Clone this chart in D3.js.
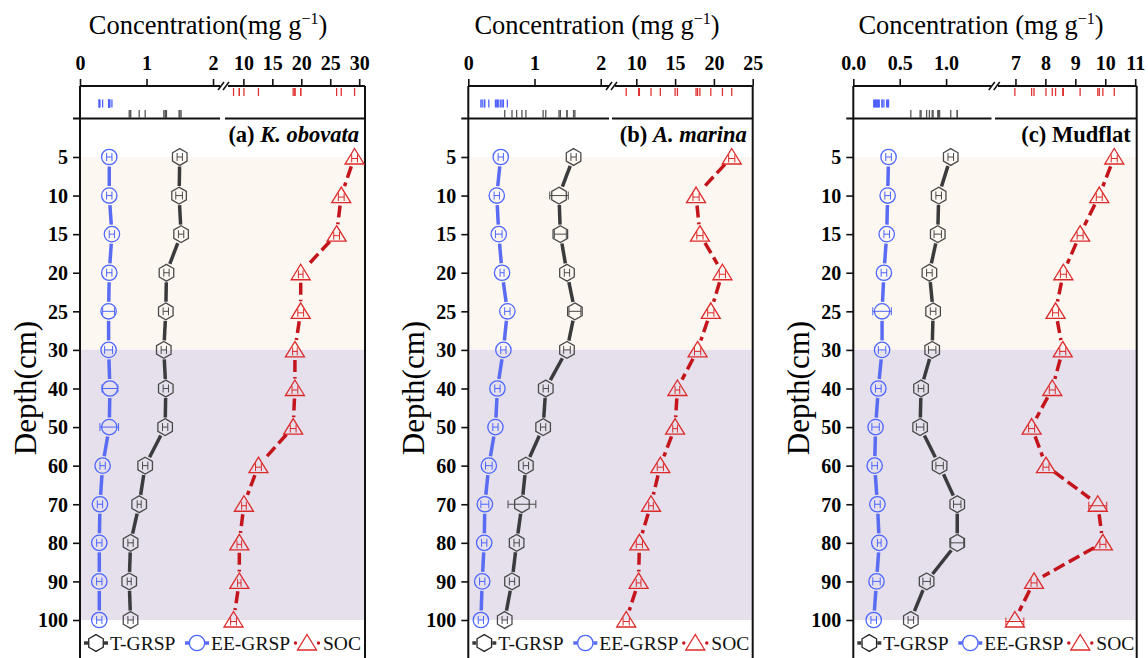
<!DOCTYPE html>
<html>
<head>
<meta charset="utf-8">
<script src="https://cdn.jsdelivr.net/npm/d3@7"></script>
<style>
body { margin: 0; background: #fff; }
svg { display: block; font-family: "Liberation Serif", "Times New Roman", serif; }
</style>
</head>
<body>
<script>
const width = 1148;
const height = 658;

// depth categories (cm), equally spaced on the axis
const depths = ['5', '10', '15', '20', '25', '30', '40', '50', '60', '70', '80', '90', '100'];

// (a) K. obovata
const tgrspA = [1.50, 1.49, 1.52, 1.30, 1.29, 1.26, 1.29, 1.28, 0.98, 0.89, 0.76, 0.74, 0.76];
const tgrspErrA = [0.04, 0.05, 0.04, 0.04, 0.04, 0.04, 0.04, 0.04, 0.04, 0.03, 0.04, 0.03, 0.04];
const eeA = [0.44, 0.44, 0.48, 0.44, 0.43, 0.43, 0.45, 0.44, 0.34, 0.30, 0.29, 0.29, 0.29];
const eeErrA = [0.04, 0.04, 0.04, 0.04, 0.09, 0.06, 0.12, 0.14, 0.04, 0.04, 0.04, 0.04, 0.04];
const socA = [29.2, 26.9, 26.1, 19.9, 19.9, 18.9, 18.9, 18.6, 12.6, 10.1, 9.3, 9.3, 8.3];
const socErrA = [0.5, 0.5, 0.5, 0.4, 0.5, 0.4, 0.5, 0.5, 0.5, 0.4, 0.4, 0.3, 0.5];

// (b) A. marina
const tgrspB = [1.59, 1.37, 1.39, 1.49, 1.61, 1.49, 1.17, 1.13, 0.87, 0.81, 0.73, 0.66, 0.55];
const tgrspErrB = [0.04, 0.14, 0.09, 0.04, 0.09, 0.05, 0.04, 0.04, 0.04, 0.21, 0.04, 0.04, 0.04];
const eeB = [0.49, 0.43, 0.46, 0.51, 0.59, 0.53, 0.44, 0.41, 0.31, 0.25, 0.24, 0.21, 0.19];
const eeErrB = [0.04, 0.04, 0.05, 0.03, 0.04, 0.04, 0.04, 0.04, 0.05, 0.06, 0.04, 0.04, 0.04];
const socB = [22.3, 17.7, 18.2, 21.1, 19.6, 17.9, 15.3, 15.0, 13.1, 11.9, 10.4, 10.3, 8.7];
const socErrB = [0.4, 0.4, 0.4, 0.4, 0.4, 0.4, 0.3, 0.3, 0.4, 0.3, 0.4, 0.3, 0.4];

// (c) Mudflat
const tgrspC = [1.05, 0.92, 0.91, 0.82, 0.86, 0.85, 0.73, 0.72, 0.93, 1.12, 1.12, 0.79, 0.62];
const tgrspErrC = [0.03, 0.03, 0.04, 0.03, 0.03, 0.04, 0.03, 0.04, 0.04, 0.04, 0.07, 0.04, 0.03];
const eeC = [0.38, 0.37, 0.36, 0.33, 0.31, 0.31, 0.27, 0.24, 0.23, 0.26, 0.28, 0.25, 0.22];
const eeErrC = [0.03, 0.03, 0.03, 0.03, 0.10, 0.04, 0.03, 0.04, 0.03, 0.03, 0.02, 0.04, 0.03];
const socC = [10.3, 9.8, 9.16, 8.6, 8.34, 8.58, 8.23, 7.54, 8.02, 9.75, 9.92, 7.62, 6.98];
const socErrC = [0.1, 0.1, 0.1, 0.1, 0.1, 0.1, 0.1, 0.1, 0.1, 0.3, 0.1, 0.1, 0.3];

// top axis tick labels
const leftTicksAB = [0, 1, 2];
const leftTicksC = [0, 0.5, 1.0];
const rightTicksA = [10, 15, 20, 25, 30];
const rightTicksB = [10, 15, 20, 25];
const rightTicksC = [7, 8, 9, 10, 11];

const legendNames = ['T-GRSP', 'EE-GRSP', 'SOC'];

const col = {
  t: {line: '#3b3b3e', mark: '#4a4a4a'},
  ee: {line: '#5a6cf3', mark: '#4d66ff'},
  soc: {line: '#c4141c', mark: '#dc2a2a'}
};

const serif = '"Liberation Serif", "Times New Roman", serif';

const svg = d3.select('body').append('svg')
  .attr('width', width).attr('height', height)
  .attr('viewBox', `0 0 ${width} ${height}`);

// depth index 0..14 -> pixels (same for all panels)
const ys = d3.scaleLinear().domain([0, 13]).range([118.4, 620]);
const yTop = 86;
const yBottom = ys(14.1);

const hexPath = (r) => {
  const pts = d3.range(6).map(k => {
    const a = -Math.PI / 2 + k * Math.PI / 3;
    return [r * Math.cos(a), r * Math.sin(a)];
  });
  return 'M' + pts.map(p => p.join(',')).join('L') + 'Z';
};
const triPath = 'M0,-8.5L9.5,7L-9.5,7Z';

function marker(g, kind, x, y, c) {
  if (kind === 't') {
    g.append('path').attr('d', hexPath(8.4)).attr('transform', `translate(${x},${y})`)
      .attr('fill', 'none').attr('stroke', c).attr('stroke-width', 1.3);
  } else if (kind === 'ee') {
    g.append('circle').attr('cx', x).attr('cy', y).attr('r', 7.7)
      .attr('fill', 'none').attr('stroke', c).attr('stroke-width', 1.3);
  } else {
    g.append('path').attr('d', triPath).attr('transform', `translate(${x},${y})`)
      .attr('fill', 'none').attr('stroke', c).attr('stroke-width', 1.3);
  }
}

function series(g, kind, vals, errs, xs, gap, dash) {
  const c = col[kind];
  const pts = vals.map((v, i) => [xs(v), ys(i + 1)]);
  for (let i = 0; i < pts.length - 1; i++) {
    const [ax, ay] = pts[i];
    const [bx, by] = pts[i + 1];
    const len = Math.hypot(bx - ax, by - ay);
    if (len <= gap * 2) continue;
    const ux = (bx - ax) / len, uy = (by - ay) / len;
    g.append('line')
      .attr('x1', ax + ux * gap).attr('y1', ay + uy * gap)
      .attr('x2', bx - ux * gap).attr('y2', by - uy * gap)
      .attr('stroke', c.line).attr('stroke-width', 3.5)
      .attr('stroke-dasharray', dash || null);
  }
  vals.forEach((v, i) => {
    const y = ys(i + 1) + (kind === 'soc' ? 1.5 : 0);
    const xa = xs(v - errs[i]), xb = xs(v + errs[i]);
    g.append('path')
      .attr('d', `M${xa},${y - 4}V${y + 4}M${xa},${y}H${xb}M${xb},${y - 4}V${y + 4}`)
      .attr('fill', 'none').attr('stroke', c.mark).attr('stroke-width', 1);
    marker(g, kind, xs(v), ys(i + 1), c.mark);
  });
}

function breakMarks(g, x, y) {
  [x - 2.5, x + 2.5].forEach(bx => {
    g.append('line').attr('x1', bx - 3).attr('y1', y + 4).attr('x2', bx + 3).attr('y2', y - 4)
      .attr('stroke', '#111').attr('stroke-width', 1.6);
  });
}

function drawPanel(p) {
  const g = svg.append('g');
  const xl = d3.scaleLinear().domain(p.leftDomain).range([p.x0, p.bx0]);
  const xr = d3.scaleLinear().domain(p.rightDomain).range([p.bx1, p.x1]);

  // background bands
  g.append('rect').attr('x', p.x0).attr('y', ys(1)).attr('width', p.x1 - p.x0)
    .attr('height', ys(6) - ys(1)).attr('fill', '#fdf7f2');
  g.append('rect').attr('x', p.x0).attr('y', ys(6)).attr('width', p.x1 - p.x0)
    .attr('height', ys(13) - ys(6)).attr('fill', '#e5e0ec');

  // rug ticks
  const rug = (vals, xs, y0, y1, c) => vals.forEach(v => {
    g.append('line').attr('x1', xs(v)).attr('x2', xs(v)).attr('y1', y0).attr('y2', y1)
      .attr('stroke', c).attr('stroke-width', 1.3);
  });
  rug(p.soc, xr, 88, 96, '#e03434');
  rug(p.ee, xl, 99.5, 107.5, '#4f62ff');
  rug(p.t, xl, 110, 117.5, '#555');

  // frame
  const fs = '#111';
  g.append('line').attr('x1', p.x0).attr('x2', p.x0).attr('y1', yTop).attr('y2', yBottom).attr('stroke', fs).attr('stroke-width', 2);
  g.append('line').attr('x1', p.x1).attr('x2', p.x1).attr('y1', yTop).attr('y2', yBottom).attr('stroke', fs).attr('stroke-width', 2);
  [[p.x0, p.bx0 - 1], [p.bx1 + 2, p.x1]].forEach(([a, b]) => {
    g.append('line').attr('x1', a).attr('x2', b).attr('y1', yTop).attr('y2', yTop).attr('stroke', fs).attr('stroke-width', 2);
    g.append('line').attr('x1', a).attr('x2', b).attr('y1', yBottom).attr('y2', yBottom).attr('stroke', fs).attr('stroke-width', 2);
  });
  g.append('line').attr('x1', p.x0 - 7).attr('x2', p.bx0 - 1).attr('y1', ys(0)).attr('y2', ys(0)).attr('stroke', fs).attr('stroke-width', 2);
  g.append('line').attr('x1', p.bx1 - 1).attr('x2', p.x1).attr('y1', ys(0)).attr('y2', ys(0)).attr('stroke', fs).attr('stroke-width', 2);
  breakMarks(g, (p.bx0 + p.bx1) / 2, yTop);
  breakMarks(g, (p.bx0 + p.bx1) / 2, yBottom);

  // top axes
  const styleAxis = (sel) => {
    sel.attr('font-family', serif);
    sel.select('.domain').remove();
    sel.selectAll('.tick line').attr('stroke', fs).attr('stroke-width', 1.6);
    sel.selectAll('.tick text').attr('fill', '#000').attr('font-family', serif)
      .attr('font-weight', 'bold').attr('font-size', 20);
  };
  g.append('g').attr('transform', `translate(0,${yTop})`)
    .call(d3.axisTop(xl).tickValues(p.leftTicks).tickFormat(p.leftFmt).tickSize(7).tickPadding(9))
    .call(styleAxis);
  g.append('g').attr('transform', `translate(0,${yTop})`)
    .call(d3.axisTop(xr).tickValues(p.rightTicks).tickFormat(d3.format('d')).tickSize(7).tickPadding(9))
    .call(styleAxis);

  // depth axis
  g.append('g').attr('transform', `translate(${p.x0},0)`)
    .call(d3.axisLeft(ys).tickValues(d3.range(1, 14)).tickFormat(i => depths[i - 1]).tickSize(7).tickPadding(5))
    .call(sel => {
      styleAxis(sel);
      sel.selectAll('.tick text').attr('dy', '0.34em');
    });

  // axis titles
  const ct = g.append('text').attr('x', p.titleX).attr('y', 34).attr('text-anchor', 'middle')
    .attr('font-size', 26.5).attr('fill', '#000');
  ct.append('tspan').text(p.concLabel);
  ct.append('tspan').attr('dy', -10).attr('font-size', 16).text('\u22121');
  ct.append('tspan').attr('dy', 10).text(')');

  g.append('text').attr('transform', `translate(${p.x0 - 44},${388}) rotate(-90)`)
    .attr('text-anchor', 'middle').attr('font-size', 31).attr('fill', '#000').text('Depth(cm)');

  // panel title
  const pt = g.append('text').attr('x', p.x1 - 6).attr('y', 142).attr('text-anchor', 'end')
    .attr('font-size', 22.5).attr('font-weight', 'bold').attr('fill', '#000');
  pt.append('tspan').text(p.tag + ' ');
  pt.append('tspan').attr('font-style', p.italic ? 'italic' : 'normal').text(p.name);

  // series
  series(g, 'ee', p.ee, p.eeErr, xl, 9.5);
  series(g, 't', p.t, p.tErr, xl, 9.5);
  series(g, 'soc', p.soc, p.socErr, xr, 10, '12,5');

  // legend
  const ly = 643;
  const items = [
    {kind: 't', cx: p.x0 + 16, tx: p.x0 + 30},
    {kind: 'ee', cx: p.x0 + 117, tx: p.x0 + 131},
    {kind: 'soc', cx: p.x0 + 227, tx: p.x0 + 243}
  ];
  items.forEach((it, k) => {
    const c = col[it.kind];
    if (it.kind === 'soc') {
      [-11.5, 11.5].forEach(d => g.append('circle').attr('cx', it.cx + d).attr('cy', ly).attr('r', 1.7).attr('fill', c.line));
    } else {
      g.append('line').attr('x1', it.cx - 12).attr('x2', it.cx - 8).attr('y1', ly).attr('y2', ly).attr('stroke', c.line).attr('stroke-width', 3.5);
      g.append('line').attr('x1', it.cx + 8).attr('x2', it.cx + 12).attr('y1', ly).attr('y2', ly).attr('stroke', c.line).attr('stroke-width', 3.5);
    }
    marker(g, it.kind, it.cx, ly, it.kind === 't' ? '#222' : c.mark);
    g.append('text').attr('x', it.tx).attr('y', ly + 6.5).attr('font-size', 19.5).attr('fill', '#111').text(legendNames[k]);
  });
}

const panels = [
  {x0: 80, x1: 365, bx0: 221, bx1: 226, leftDomain: [0, 2.12], rightDomain: [7, 31],
   leftTicks: leftTicksAB, leftFmt: d3.format('d'), rightTicks: rightTicksA,
   titleX: 208, concLabel: 'Concentration(mg g', tag: '(a)', name: 'K. obovata', italic: true,
   t: tgrspA, tErr: tgrspErrA, ee: eeA, eeErr: eeErrA, soc: socA, socErr: socErrA},
  {x0: 468.3, x1: 752.7, bx0: 610, bx1: 613, leftDomain: [0, 2.14], rightDomain: [7, 25],
   leftTicks: leftTicksAB, leftFmt: d3.format('d'), rightTicks: rightTicksB,
   titleX: 597, concLabel: 'Concentration (mg g', tag: '(b)', name: 'A. marina', italic: true,
   t: tgrspB, tErr: tgrspErrB, ee: eeB, eeErr: eeErrB, soc: socB, socErr: socErrB},
  {x0: 853.3, x1: 1136.7, bx0: 992.5, bx1: 996, leftDomain: [0, 1.5], rightDomain: [6.35, 11.05],
   leftTicks: leftTicksC, leftFmt: d3.format('.1f'), rightTicks: rightTicksC,
   titleX: 981, concLabel: 'Concentration (mg g', tag: '(c)', name: 'Mudflat', italic: false,
   t: tgrspC, tErr: tgrspErrC, ee: eeC, eeErr: eeErrC, soc: socC, socErr: socErrC}
];

panels.forEach(drawPanel);
</script>
</body>
</html>
